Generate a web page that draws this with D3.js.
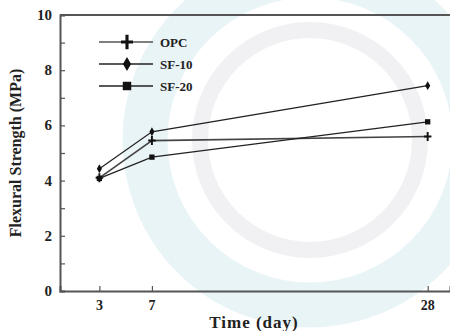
<!DOCTYPE html>
<html>
<head>
<meta charset="utf-8">
<script src="https://cdn.jsdelivr.net/npm/d3@7/dist/d3.min.js"></script>
<style>
  body { margin: 0; background: #fff; }
  svg { display: block; font-family: "Liberation Serif", "Times New Roman", serif; }
</style>
</head>
<body>
<div id="chart"></div>
<script>
// Chart data
const days = [3, 7, 28];
const seriesNames = ["OPC", "SF-10", "SF-20"];
const opcValues = [4.1, 5.45, 5.6];
const sf10Values = [4.43, 5.77, 7.44];
const sf20Values = [4.08, 4.85, 6.13];
const yTickValues = [0, 2, 4, 6, 8, 10];

const width = 450, height = 331;
const margin = { left: 60, top: 15, bottom: 40 };

const svg = d3.select("#chart").append("svg")
  .attr("width", width)
  .attr("height", height);

// Faint watermark behind the plot
const wm = svg.append("g").attr("opacity", 0.18);
wm.append("circle").attr("cx", 310).attr("cy", 140).attr("r", 165)
  .attr("fill", "none").attr("stroke", "#8cc6d8").attr("stroke-width", 45);
wm.append("circle").attr("cx", 310).attr("cy", 140).attr("r", 110)
  .attr("fill", "none").attr("stroke", "#b4b4c8").attr("stroke-width", 16);

// Scales
const x = d3.scaleLinear().domain([0, 29.7]).range([margin.left, width]);
const y = d3.scaleLinear().domain([0, 10]).range([291, margin.top]);

const axisColor = "#555";

// Top border
svg.append("line")
  .attr("x1", margin.left).attr("x2", width)
  .attr("y1", y(10)).attr("y2", y(10))
  .attr("stroke", axisColor).attr("stroke-width", 2);

// Y axis (ticks pointing inward)
const yAxis = svg.append("g")
  .attr("transform", `translate(${margin.left},0)`)
  .call(d3.axisRight(y).tickValues(d3.range(0, 11, 1)).tickSize(5).tickFormat(""));
yAxis.select(".domain").attr("stroke", axisColor).attr("stroke-width", 2);
yAxis.selectAll(".tick line").attr("stroke", axisColor).attr("stroke-width", 1.2);

svg.append("g").selectAll("text")
  .data(yTickValues)
  .join("text")
  .attr("x", 52)
  .attr("y", d => y(d) + 5)
  .attr("text-anchor", "end")
  .attr("font-size", 15)
  .attr("font-weight", "bold")
  .attr("fill", "#222")
  .text(d => d);

// X axis (ticks pointing inward)
const xAxis = svg.append("g")
  .attr("transform", `translate(0,${y(0)})`)
  .call(d3.axisTop(x).tickValues(days).tickSize(5).tickFormat(""));
xAxis.select(".domain").attr("stroke", axisColor).attr("stroke-width", 2);
xAxis.selectAll(".tick line").attr("stroke", axisColor).attr("stroke-width", 1.2);

svg.append("g").selectAll("text")
  .data(days)
  .join("text")
  .attr("x", d => x(d))
  .attr("y", 310)
  .attr("text-anchor", "middle")
  .attr("font-size", 14)
  .attr("font-weight", "bold")
  .attr("fill", "#222")
  .text(d => d);

// Axis titles
svg.append("text")
  .attr("x", 254).attr("y", 328)
  .attr("text-anchor", "middle")
  .attr("font-size", 17)
  .attr("font-weight", "bold")
  .attr("letter-spacing", 1)
  .attr("fill", "#222")
  .text("Time (day)");

svg.append("text")
  .attr("transform", `translate(21,${(y(0) + y(10)) / 2}) rotate(-90)`)
  .attr("text-anchor", "middle")
  .attr("font-size", 16)
  .attr("font-weight", "bold")
  .attr("fill", "#222")
  .text("Flexural Strength (MPa)");

// Marker drawing
const markerPath = {
  "SF-10": d3.symbol().type(d3.symbolDiamond).size(40),
  "SF-20": d3.symbol().type(d3.symbolSquare).size(50)
};

function drawMarker(g, name, cx, cy, scale) {
  const s = scale || 1;
  if (name === "OPC") {
    g.append("path")
      .attr("d", `M${cx - 5 * s},${cy}H${cx + 5 * s}M${cx},${cy - 6 * s}V${cy + 6 * s}`)
      .attr("stroke", "#111").attr("stroke-width", 2.6 * s);
  } else {
    g.append("path")
      .attr("transform", `translate(${cx},${cy}) scale(${s})`)
      .attr("d", markerPath[name]())
      .attr("fill", "#111");
  }
}

// Series
const series = [
  { name: "OPC", values: opcValues, color: "#444", width: 1.6 },
  { name: "SF-10", values: sf10Values, color: "#222", width: 1.3 },
  { name: "SF-20", values: sf20Values, color: "#222", width: 1.3 }
];

const line = d3.line().x(d => x(d.day)).y(d => y(d.v));

series.forEach(s => {
  const pts = days.map((day, i) => ({ day: day, v: s.values[i] }));
  svg.append("path")
    .datum(pts)
    .attr("fill", "none")
    .attr("stroke", s.color)
    .attr("stroke-width", s.width)
    .attr("d", line);
  const g = svg.append("g");
  pts.forEach(p => drawMarker(g, s.name, x(p.day), y(p.v), 0.75));
});

// Legend
const legend = svg.append("g");
seriesNames.forEach((name, i) => {
  const ly = 42 + i * 22;
  legend.append("line")
    .attr("x1", 99).attr("x2", 153)
    .attr("y1", ly).attr("y2", ly)
    .attr("stroke", i === 0 ? "#555" : "#222")
    .attr("stroke-width", 1.4);
  drawMarker(legend, name, 127, ly, 1.2);
  legend.append("text")
    .attr("x", 160).attr("y", ly + 5)
    .attr("font-size", 13)
    .attr("font-weight", "bold")
    .attr("fill", "#222")
    .text(name);
});
</script>
</body>
</html>
